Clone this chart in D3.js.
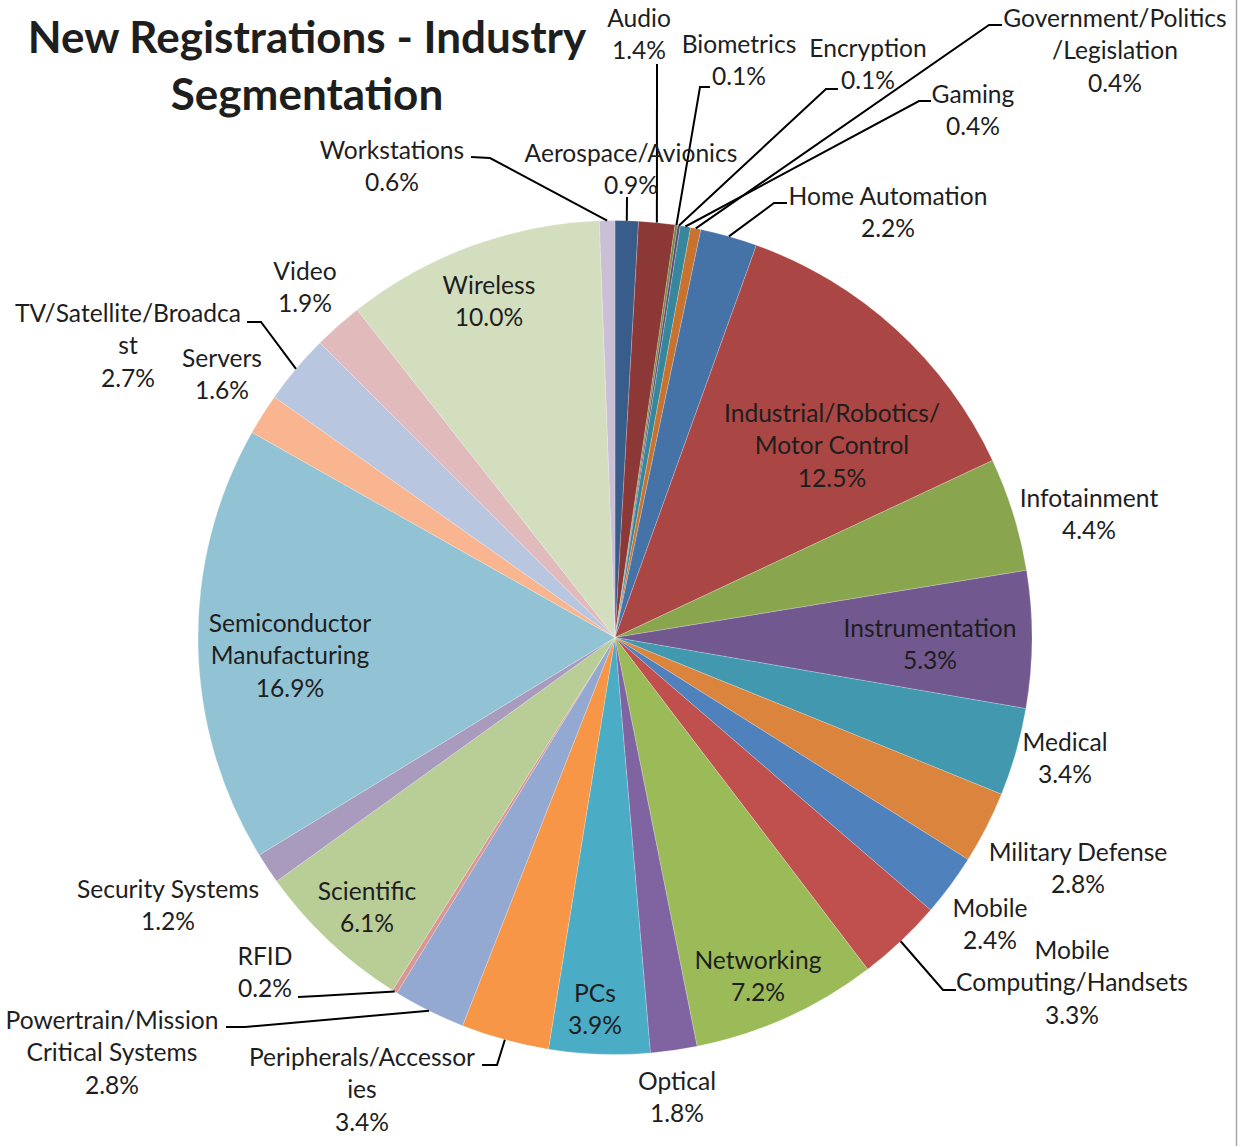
<!DOCTYPE html>
<html>
<head>
<meta charset="utf-8">
<script src="https://cdn.jsdelivr.net/npm/d3@7"></script>
<style>
  body { margin: 0; background: #fff; }
  svg { display: block; }
  text { font-family: Lato, "Open Sans", sans-serif; fill: #1e1e1e; }
</style>
</head>
<body>
<div id="chart"></div>
<script>
// slice data, clockwise from 12 o'clock
let categories = ["Aerospace/Avionics", "Audio", "Biometrics", "Encryption", "Gaming",
  "Government/Politics/Legislation", "Home Automation", "Industrial/Robotics/Motor Control",
  "Infotainment", "Instrumentation", "Medical", "Military Defense", "Mobile",
  "Mobile Computing/Handsets", "Networking", "Optical", "PCs", "Peripherals/Accessories",
  "Powertrain/Mission Critical Systems", "RFID", "Scientific", "Security Systems",
  "Semiconductor Manufacturing", "Servers", "TV/Satellite/Broadcast", "Video", "Wireless",
  "Workstations"];
let shares = [0.9, 1.4, 0.1, 0.1, 0.4, 0.4, 2.2, 12.5, 4.4, 5.3, 3.4, 2.8, 2.4, 3.3, 7.2,
  1.8, 3.9, 3.4, 2.8, 0.2, 6.1, 1.2, 16.9, 1.6, 2.7, 1.9, 10.0, 0.6];
// how the label text wraps in the picture
let labelLines = [["Aerospace/Avionics"], ["Audio"], ["Biometrics"], ["Encryption"], ["Gaming"],
  ["Government/Politics", "/Legislation"], ["Home Automation"], ["Industrial/Robotics/", "Motor Control"],
  ["Infotainment"], ["Instrumentation"], ["Medical"], ["Military Defense"], ["Mobile"],
  ["Mobile", "Computing/Handsets"], ["Networking"], ["Optical"], ["PCs"], ["Peripherals/Accessor", "ies"],
  ["Powertrain/Mission", "Critical Systems"], ["RFID"], ["Scientific"], ["Security Systems"],
  ["Semiconductor", "Manufacturing"], ["Servers"], ["TV/Satellite/Broadca", "st"], ["Video"], ["Wireless"],
  ["Workstations"]];

let colors = ["#385d8a", "#8c3836", "#71893f", "#5c4776", "#37879c", "#c7732f",
  "#4572a7", "#aa4643", "#89a54e", "#71588f", "#4198af", "#db843d",
  "#4f81bd", "#c0504d", "#9bbb59", "#8064a2", "#4bacc6", "#f79646",
  "#94a9d1", "#d99694", "#b9cd96", "#a99bbd", "#92c3d4", "#f9b590",
  "#b9c6e0", "#e1bbbc", "#d2debe", "#c9c0d6"];

// label placement: centre x, first line y, leader points (label side first)
let labelPos = [
  [631, 153, [[627, 197]]],
  [639, 18, [[657, 64]]],
  [739, 44, [[710, 87], [700, 87]]],
  [868, 48, [[838, 89], [826, 89]]],
  [973, 94, [[931, 101], [919, 101]]],
  [1115, 18, [[1002, 25], [989, 25]]],
  [888, 196, [[787, 203], [774, 203]]],
  [832, 413, null],
  [1089, 498, null],
  [930, 628, null],
  [1065, 742, null],
  [1078, 852, null],
  [990, 908, null],
  [1072, 950, [[956, 990], [943, 990]]],
  [758, 960, null],
  [677, 1081, null],
  [595, 993, null],
  [362, 1057, [[482, 1065], [497, 1065]]],
  [112, 1020, [[226, 1027], [245, 1027]]],
  [265, 956, [[298, 997], [318, 996]]],
  [367, 891, null],
  [168, 889, null],
  [290, 623, null],
  [222, 358, null],
  [128, 313, [[247, 322], [261, 322]]],
  [305, 271, null],
  [489, 285, null],
  [392, 150, [[471, 157], [490, 158]]]
];

let w = 1239, h = 1146;
let cx = 615, cy = 637.5, r = 417;
let lineGap = 32.5;

let svg = d3.select("#chart").append("svg")
    .attr("width", w)
    .attr("height", h)
;

// right border of the chart area
svg.append("line")
    .attr("x1", w - 2.5).attr("x2", w - 2.5)
    .attr("y1", 0).attr("y2", h)
    .attr("stroke", "#a6a6a6")
    .attr("stroke-width", 1.5)
;

let data = categories.map(function(c, i){
  return { name: c, value: shares[i], lines: labelLines[i], color: colors[i], pos: labelPos[i] };
});

let pie = d3.pie().sort(null).value(function(d){ return d.value; });
let arcs = pie(data);

let arcMaker = d3.arc().innerRadius(0).outerRadius(r);
let edgeArc = d3.arc().innerRadius(r).outerRadius(r);

let pieGroup = svg.append("g").attr("transform", "translate(" + cx + "," + cy + ")");

pieGroup.selectAll("path")
    .data(arcs)
  .enter()
    .append("path")
    .attr("d", arcMaker)
    .attr("fill", function(d){ return d.data.color; })
    .attr("stroke", "rgba(255,255,255,0.35)")
    .attr("stroke-width", 0.6)
;

// leader lines
let lineMaker = d3.line();
svg.selectAll(".leader")
    .data(arcs.filter(function(d){ return d.data.pos[2]; }))
  .enter()
    .append("path")
    .attr("class", "leader")
    .attr("d", function(d){
      let e = edgeArc.centroid(d);
      let pts = d.data.pos[2].concat([[cx + e[0], cy + e[1]]]);
      return lineMaker(pts);
    })
    .attr("fill", "none")
    .attr("stroke", "#000")
    .attr("stroke-width", 2)
;

// labels
let fmt = d3.format(".1f");
let labels = svg.selectAll(".label")
    .data(arcs)
  .enter()
    .append("text")
    .attr("class", "label")
    .attr("text-anchor", "middle")
    .attr("font-size", 24.6)
;
labels.each(function(d){
  let t = d3.select(this);
  let lines = d.data.lines.concat([fmt(d.data.value) + "%"]);
  lines.forEach(function(l, i){
    t.append("tspan")
      .attr("x", d.data.pos[0])
      .attr("y", d.data.pos[1] + i * lineGap + 8.5)
      .text(l);
  });
});

// title
let title = svg.append("text")
    .attr("text-anchor", "middle")
    .attr("font-size", 44)
    .attr("font-weight", "bold")
;
title.append("tspan").attr("x", 307).attr("y", 53).text("New Registrations - Industry");
title.append("tspan").attr("x", 307).attr("y", 110).text("Segmentation");
</script>
</body>
</html>
